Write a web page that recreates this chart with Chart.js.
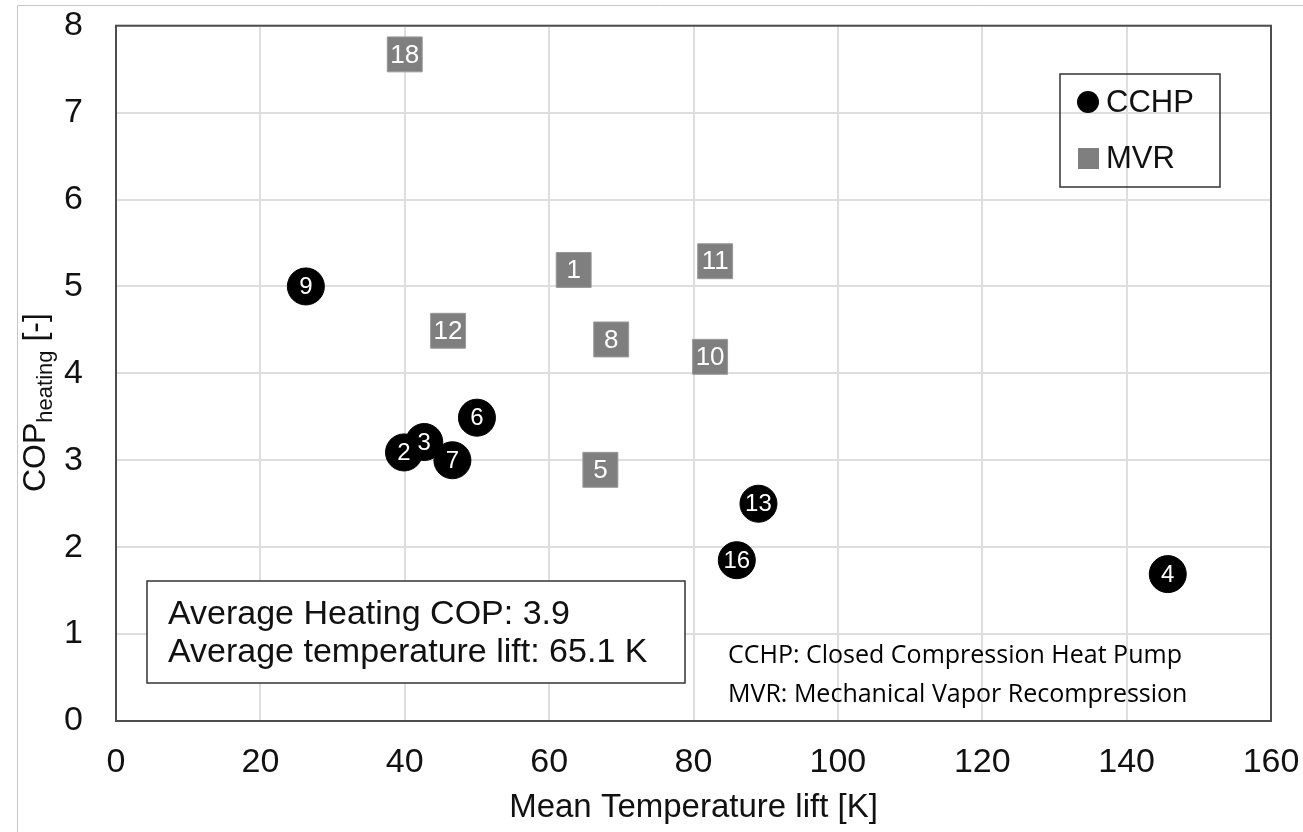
<!DOCTYPE html>
<html>
<head>
<meta charset="utf-8">
<script src="https://cdn.jsdelivr.net/npm/chart.js@4"></script>
<style>
  html, body { margin: 0; padding: 0; background: #fff; }
  canvas { display: block; }
</style>
</head>
<body>
<canvas id="c" width="1303" height="832"></canvas>
<script>
// COP vs mean temperature lift, CCHP and MVR plants
const cchpIds  = [2, 3, 4, 6, 7, 9, 13, 16];
const cchpLift = [39.9, 42.7, 145.7, 50.0, 46.6, 26.3, 89.0, 86.0];
const cchpCop  = [3.09, 3.21, 1.69, 3.49, 3.00, 5.00, 2.50, 1.85];

const mvrIds  = [1, 5, 8, 10, 11, 12, 18];
const mvrLift = [63.4, 67.1, 68.6, 82.3, 83.0, 46.0, 40.0];
const mvrCop  = [5.19, 2.89, 4.39, 4.19, 5.29, 4.49, 7.67];

const xTicks = [0, 20, 40, 60, 80, 100, 120, 140, 160];
const yTicks = [0, 1, 2, 3, 4, 5, 6, 7, 8];

const summaryLines = ['Average Heating COP: 3.9', 'Average temperature lift: 65.1 K'];
const noteLines = ['CCHP: Closed Compression Heat Pump', 'MVR: Mechanical Vapor Recompression'];

const ARIAL = '"Liberation Sans", Arial, sans-serif';
const GREY = '#7f7f7f';

const toPoints = (xs, ys) => xs.map((x, i) => ({ x: x, y: ys[i] }));

// frame, legend, boxes, point numbers, y title
const decor = {
  id: 'decor',
  beforeDraw(chart) {
    const ctx = chart.ctx;
    ctx.save();
    ctx.strokeStyle = '#c8c8c8';
    ctx.lineWidth = 1;
    ctx.beginPath();
    ctx.moveTo(17.5, 832); ctx.lineTo(17.5, 5.5); ctx.lineTo(1303, 5.5);
    ctx.stroke();
    ctx.restore();
  },
  afterDatasetsDraw(chart) {
    const ctx = chart.ctx;
    const a = chart.chartArea;
    ctx.save();

    // plot frame
    ctx.strokeStyle = '#4d4d4d';
    ctx.lineWidth = 2;
    ctx.strokeRect(a.left, a.top, a.right - a.left, a.bottom - a.top);

    // numbers on markers
    ctx.textAlign = 'center';
    ctx.textBaseline = 'middle';
    ctx.fillStyle = '#fff';
    const idSets = [cchpIds, mvrIds];
    chart.data.datasets.forEach((ds, di) => {
      const meta = chart.getDatasetMeta(di);
      ctx.font = (di === 0 ? '24px ' : '26px ') + ARIAL;
      meta.data.forEach((pt, i) => {
        ctx.fillText(String(idSets[di][i]), pt.x, pt.y + 1, 31);
      });
    });

    // legend
    ctx.strokeStyle = '#333';
    ctx.lineWidth = 1.5;
    ctx.strokeRect(1060, 74, 160, 113);
    ctx.fillStyle = '#000';
    ctx.beginPath(); ctx.arc(1088, 102, 11, 0, Math.PI * 2); ctx.fill();
    ctx.fillStyle = GREY;
    ctx.fillRect(1078, 148, 21, 21);
    ctx.fillStyle = '#111';
    ctx.textAlign = 'left';
    ctx.font = '31px ' + ARIAL;
    ctx.fillText(chart.data.datasets[0].label, 1106, 103);
    ctx.fillText(chart.data.datasets[1].label, 1106, 159);

    // summary box
    ctx.fillStyle = '#fff';
    ctx.fillRect(147, 581, 538, 102);
    ctx.strokeRect(147, 581, 538, 102);
    ctx.fillStyle = '#111';
    ctx.textBaseline = 'alphabetic';
    ctx.font = '34px ' + ARIAL;
    ctx.fillText(summaryLines[0], 168, 624);
    ctx.fillText(summaryLines[1], 168, 662);

    // abbreviations note
    ctx.fillStyle = '#000';
    ctx.font = '25px "Open Sans", "Noto Sans", sans-serif';
    ctx.fillText(noteLines[0], 728, 663, 456);
    ctx.fillText(noteLines[1], 728, 702, 476);

    // y axis title with subscript
    ctx.translate(45, 492);
    ctx.rotate(-Math.PI / 2);
    ctx.fillStyle = '#111';
    ctx.font = '32px ' + ARIAL;
    ctx.fillText('COP', 0, 0);
    let w = ctx.measureText('COP').width;
    ctx.font = '22px ' + ARIAL;
    ctx.fillText('heating', w, 7);
    w += ctx.measureText('heating').width;
    ctx.font = '32px ' + ARIAL;
    ctx.fillText(' [-]', w, 0);

    ctx.restore();
  }
};

new Chart(document.getElementById('c'), {
  type: 'scatter',
  data: {
    datasets: [
      {
        label: 'CCHP',
        data: toPoints(cchpLift, cchpCop),
        pointStyle: 'circle',
        pointRadius: 18.5,
        backgroundColor: '#000',
        borderColor: '#000',
        borderWidth: 1
      },
      {
        label: 'MVR',
        data: toPoints(mvrLift, mvrCop),
        pointStyle: 'rect',
        pointRadius: 24.7,
        backgroundColor: GREY,
        borderColor: '#999',
        borderWidth: 1
      }
    ]
  },
  options: {
    responsive: false,
    devicePixelRatio: 1,
    animation: false,
    layout: { padding: { top: 21, right: 32, left: 0, bottom: 0 } },
    plugins: { legend: { display: false }, tooltip: { enabled: false } },
    scales: {
      x: {
        type: 'linear',
        min: 0, max: 160,
        afterFit: (s) => { s.height = 111; s.paddingLeft = 0; s.paddingRight = 0; },
        afterBuildTicks: (s) => { s.ticks = xTicks.map(v => ({ value: v })); },
        grid: { color: '#dedede', lineWidth: 2, drawTicks: false },
        border: { display: false },
        ticks: { padding: 21, color: '#111', font: { family: ARIAL, size: 34 }, maxRotation: 0 },
        title: { display: true, text: 'Mean Temperature lift [K]', color: '#111',
          font: { family: ARIAL, size: 33 }, padding: { top: 0, bottom: 4 } }
      },
      y: {
        type: 'linear',
        min: 0, max: 8,
        afterFit: (s) => { s.width = 116; s.paddingTop = 0; s.paddingBottom = 0; },
        afterBuildTicks: (s) => { s.ticks = yTicks.map(v => ({ value: v })); },
        grid: { color: '#dedede', lineWidth: 2, drawTicks: false },
        border: { display: false },
        ticks: { padding: 33, color: '#111', font: { family: ARIAL, size: 34 } }
      }
    }
  },
  plugins: [decor]
});
</script>
</body>
</html>
